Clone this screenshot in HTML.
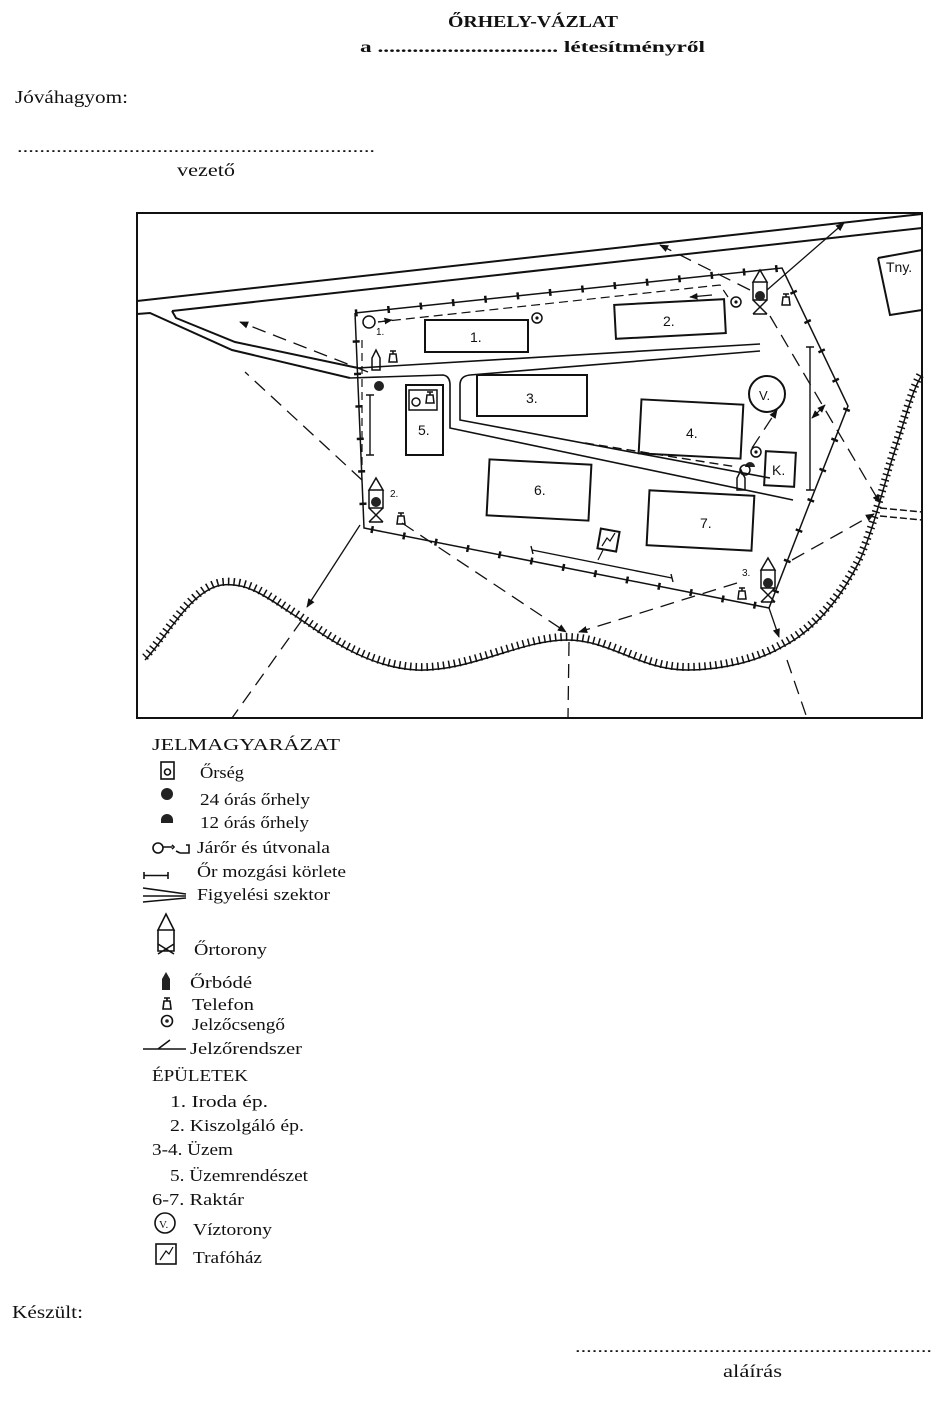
<!DOCTYPE html>
<html><head><meta charset="utf-8"><style>
html,body{margin:0;padding:0;background:#fff}
body{width:939px;height:1403px;position:relative;overflow:hidden}
</style></head><body>
<svg width="939" height="1403" style="position:absolute;left:0;top:0" xmlns="http://www.w3.org/2000/svg">
<defs>
<marker id="ar" viewBox="0 0 10 10" refX="9" refY="5" markerWidth="7" markerHeight="7" orient="auto-start-reverse"><path d="M0,1 L10,5 L0,9 Z" fill="#111"/></marker>
</defs>
<g font-family="Liberation Serif,serif" fill="#111" lengthAdjust="spacingAndGlyphs">
<text x="448" y="27" font-size="17" font-weight="bold" textLength="170" lengthAdjust="spacingAndGlyphs">ŐRHELY-VÁZLAT</text>
<text x="360" y="52" font-size="16" font-weight="bold" textLength="345" lengthAdjust="spacingAndGlyphs">a ............................... létesítményről</text>
<text x="15" y="103" font-size="18" textLength="113" lengthAdjust="spacingAndGlyphs">Jóváhagyom:</text>
<text x="17" y="152" font-size="16" textLength="358" lengthAdjust="spacingAndGlyphs">................................................................</text>
<text x="177" y="176" font-size="18" textLength="58" lengthAdjust="spacingAndGlyphs">vezető</text>
<text x="12" y="1318" font-size="18" textLength="71" lengthAdjust="spacingAndGlyphs">Készült:</text>
<text x="575" y="1352" font-size="16" textLength="357" lengthAdjust="spacingAndGlyphs">................................................................</text>
<text x="723" y="1377" font-size="18" textLength="59" lengthAdjust="spacingAndGlyphs">aláírás</text>
</g>

<g fill="none" stroke="#111" stroke-width="2">
<!-- frame -->
<rect x="137" y="213" width="785" height="505"/>
<!-- top road -->
<line x1="137" y1="301" x2="922" y2="214"/>
<line x1="172" y1="311" x2="922" y2="228"/>
<path d="M137,314 L150,313 L232,350 L350,378"/>
<path d="M172,311 L176,318 L235,342 L358,368"/>
<!-- inner roads -->
<path d="M350,378 L443,375 Q450,376 450,385 L450,428 L793,500" stroke-width="1.6"/>
<path d="M358,368 L760,344" stroke-width="1.6"/>
<path d="M760,351 L470,375 Q460,376 460,385 L460,420 L770,478" stroke-width="1.6"/>
<!-- right road stub -->
<path d="M880,508 L922,512 M880,516 L922,520" stroke-width="1.5" stroke-dasharray="7 3"/>
<!-- buildings -->
<rect x="425" y="320" width="103" height="32"/>
<rect x="615" y="302" width="110" height="34" transform="rotate(-3 670 319)"/>
<rect x="477" y="375" width="110" height="41"/>
<rect x="640" y="402" width="102" height="54" transform="rotate(3 691 429)"/>
<rect x="406" y="385" width="37" height="70"/>
<rect x="488" y="462" width="102" height="56" transform="rotate(3 539 490)"/>
<rect x="648" y="493" width="105" height="55" transform="rotate(3 700 520)"/>
<rect x="765" y="452" width="30" height="34" transform="rotate(3 780 469)"/>
<path d="M878,258 L922,250 M878,258 L890,315 L922,310"/>
<circle cx="767" cy="394" r="18"/>
<rect x="599" y="530" width="19" height="20" transform="rotate(10 608 540)"/>
<path d="M602,546 L607,538 L610,541 L615,533" stroke-width="1.2"/>
<line x1="603" y1="550" x2="598" y2="560" stroke-width="1.2"/>
<!-- fence -->
<polyline points="355,313 782,268 848,406 807,510 769,608 364,528 355,313" stroke-width="1.5"/>
<polyline points="355,313 782,268 848,406 807,510 769,608 364,528 355,313" stroke-width="7" stroke-dasharray="2.5 30"/>
<!-- patrol routes -->
<polyline points="378,322 720,285 728,297" stroke-width="1.2" stroke-dasharray="9 5"/>
<line x1="378" y1="322" x2="392" y2="320" stroke-width="1.2" marker-end="url(#ar)"/>
<line x1="712" y1="295" x2="690" y2="297" stroke-width="1.2" marker-end="url(#ar)"/>
<line x1="362" y1="340" x2="362" y2="470" stroke-width="1.2" stroke-dasharray="8 5"/>
<line x1="585" y1="443" x2="737" y2="467" stroke-width="1.4" stroke-dasharray="9 5"/>
<!-- movement ranges -->
<path d="M370,395 V455 M366,395 H374 M366,455 H374" stroke-width="1.4"/>
<path d="M810,347 V490 M806,347 H814 M806,490 H814" stroke-width="1.4"/>
<path d="M532,550 L672,578 M531,546 L533,554 M671,574 L673,582" stroke-width="1.4"/>
<line x1="812" y1="418" x2="825" y2="405" stroke-width="1.2" marker-end="url(#ar)" marker-start="url(#ar)"/>
<!-- sectors dashed -->
<g stroke-width="1.3" stroke-dasharray="14 8">
<line x1="368" y1="372" x2="240" y2="322" marker-end="url(#ar)"/>
<line x1="362" y1="480" x2="245" y2="372"/>
<line x1="302" y1="620" x2="232" y2="718"/>
<line x1="402" y1="523" x2="566" y2="632" marker-end="url(#ar)"/>
<line x1="737" y1="583" x2="579" y2="632" marker-end="url(#ar)"/>
<line x1="569" y1="642" x2="568" y2="718"/>
<line x1="787" y1="660" x2="807" y2="718"/>
<line x1="792" y1="560" x2="874" y2="514" marker-end="url(#ar)"/>
<line x1="770" y1="316" x2="880" y2="503" marker-end="url(#ar)"/>
<line x1="750" y1="290" x2="660" y2="245" marker-end="url(#ar)"/>
<line x1="752" y1="448" x2="777" y2="410" marker-end="url(#ar)"/>
</g>
<!-- sectors solid -->
<g stroke-width="1.3">
<line x1="360" y1="525" x2="307" y2="607" marker-end="url(#ar)"/>
<line x1="769" y1="608" x2="779" y2="637" marker-end="url(#ar)"/>
<line x1="767" y1="290" x2="844" y2="223" marker-end="url(#ar)"/>
</g>
<!-- hedge -->
<path id="hedge" d="M145,660 C165,640 190,590 222,585 C250,582 270,600 297,617 C330,640 370,668 417,670 C470,672 520,640 567,640 C610,640 640,670 687,670 C725,670 760,660 782,647 C815,630 840,600 860,560 C875,525 885,480 895,450 C905,420 912,390 922,375" stroke-width="1.5"/>
<path d="M145,660 C165,640 190,590 222,585 C250,582 270,600 297,617 C330,640 370,668 417,670 C470,672 520,640 567,640 C610,640 640,670 687,670 C725,670 760,660 782,647 C815,630 840,600 860,560 C875,525 885,480 895,450 C905,420 912,390 922,375" stroke-width="8" stroke-dasharray="1.5 4" transform="translate(0,-3)"/>
</g>
<!-- towers in map -->
<g fill="none" stroke="#111" stroke-width="1.5">
<g transform="translate(376,478)"><path d="M-7,12 L0,0 L7,12 Z M-7,12 V30 H7 V12 M-7,30 L7,44 M7,30 L-7,44 M-7,44 H7"/></g>
<g transform="translate(760,270)"><path d="M-7,12 L0,0 L7,12 Z M-7,12 V30 H7 V12 M-7,30 L7,44 M7,30 L-7,44 M-7,44 H7"/></g>
<g transform="translate(768,558)"><path d="M-7,12 L0,0 L7,12 Z M-7,12 V30 H7 V12 M-7,30 L7,44 M7,30 L-7,44 M-7,44 H7"/></g>
<!-- phones -->
<g transform="translate(401,512)"><path d="M-4,12 H4 L3,4 H-3 Z M-3,1 H3 M0,1 V4"/></g>
<g transform="translate(786,293)"><path d="M-4,12 H4 L3,4 H-3 Z M-3,1 H3 M0,1 V4"/></g>
<g transform="translate(742,587)"><path d="M-4,12 H4 L3,4 H-3 Z M-3,1 H3 M0,1 V4"/></g>
<g transform="translate(393,350)"><path d="M-4,12 H4 L3,4 H-3 Z M-3,1 H3 M0,1 V4"/></g>
<g transform="translate(430,391)"><path d="M-4,12 H4 L3,4 H-3 Z M-3,1 H3 M0,1 V4"/></g>
<!-- booths -->
<path d="M372,370 V358 L376,350 L380,358 V370 Z"/>
<path d="M737,490 V478 L741,470 L745,478 V490 Z"/>
<rect x="409" y="390" width="28" height="20"/>
<circle cx="416" cy="402" r="4"/>
</g>
<g fill="#222">
<circle cx="379" cy="386" r="5"/>
<circle cx="376" cy="502" r="5"/><circle cx="760" cy="296" r="5"/><circle cx="768" cy="583" r="5"/>
<path d="M745,467 a5,5 0 0 1 10,0 Z"/>
</g>
<g fill="none" stroke="#111" stroke-width="1.5">
<circle cx="537" cy="318" r="5"/><circle cx="736" cy="302" r="5"/><circle cx="756" cy="452" r="5"/><circle cx="369" cy="322" r="6"/>
<circle cx="745" cy="470" r="5"/>
</g>
<g fill="#111"><circle cx="537" cy="318" r="1.6"/><circle cx="736" cy="302" r="1.6"/><circle cx="756" cy="452" r="1.6"/></g>
<g font-family="Liberation Sans,sans-serif" font-size="14" fill="#111">
<text x="470" y="342">1.</text><text x="663" y="326">2.</text><text x="526" y="403">3.</text>
<text x="686" y="438">4.</text><text x="418" y="435">5.</text><text x="534" y="495">6.</text>
<text x="700" y="528">7.</text><text x="772" y="475">K.</text><text x="886" y="272">Tny.</text>
<text x="759" y="400" font-size="13">V.</text>
<text x="390" y="497" font-size="10">2.</text><text x="376" y="335" font-size="10">1.</text><text x="742" y="576" font-size="10">3.</text>
</g>

<!-- legend icons -->
<g fill="none" stroke="#111" stroke-width="1.6">
<rect x="161" y="762" width="13" height="17"/>
<circle cx="167.5" cy="772" r="3"/>
<path d="M153,848 a5,5 0 1 0 10,0 a5,5 0 1 0 -10,0 M163,847 H172 M172,845 L174,847 L172,849 M186,845 H189 V853 H180 M180,853 L176,851"/>
<path d="M144,872 V879 M144,875.5 H168 M168,872 V879"/>
<path d="M143,888 L186,894 M143,896 L186,896 M143,902 L186,898"/>
<path d="M158,930 L166,914 L174,930 Z M158,930 V951 H174 V930 M158,944 L174,954 M174,944 L158,954"/>
<path d="M163,1009 H171 L170,1001 H164 Z M164,998 H170 M167,998 V1001"/>
<circle cx="167" cy="1021" r="5.5"/>
<path d="M143,1049 L186,1049 M158,1049 L170,1040"/>
<circle cx="165" cy="1223" r="10"/>
<rect x="156" y="1244" width="20" height="20"/>
<path d="M160,1260 L166,1251 L169,1254 L173,1247" stroke-width="1.2"/>
</g>
<g fill="#222"><circle cx="167" cy="794" r="6"/><path d="M161,820 a6,6 0 0 1 12,0 V823 H161 Z"/><path d="M162,990 V979 L166,972 L170,979 V990 Z"/><circle cx="167" cy="1021" r="1.8"/></g>
<g font-size="17" fill="#111" font-family="Liberation Serif,serif">
<text x="152" y="750" textLength="188" lengthAdjust="spacingAndGlyphs">JELMAGYARÁZAT</text>
<text x="200" y="778" textLength="44" lengthAdjust="spacingAndGlyphs">Őrség</text>
<text x="200" y="805" textLength="110" lengthAdjust="spacingAndGlyphs">24 órás őrhely</text>
<text x="200" y="828" textLength="109" lengthAdjust="spacingAndGlyphs">12 órás őrhely</text>
<text x="197" y="853" textLength="133" lengthAdjust="spacingAndGlyphs">Járőr és útvonala</text>
<text x="197" y="877" textLength="149" lengthAdjust="spacingAndGlyphs">Őr mozgási körlete</text>
<text x="197" y="900" textLength="133" lengthAdjust="spacingAndGlyphs">Figyelési szektor</text>
<text x="194" y="955" textLength="73" lengthAdjust="spacingAndGlyphs">Őrtorony</text>
<text x="190" y="988" textLength="62" lengthAdjust="spacingAndGlyphs">Őrbódé</text>
<text x="192" y="1010" textLength="62" lengthAdjust="spacingAndGlyphs">Telefon</text>
<text x="192" y="1030" textLength="93" lengthAdjust="spacingAndGlyphs">Jelzőcsengő</text>
<text x="190" y="1054" textLength="112" lengthAdjust="spacingAndGlyphs">Jelzőrendszer</text>
<text x="152" y="1081" textLength="96" lengthAdjust="spacingAndGlyphs">ÉPÜLETEK</text>
<text x="170" y="1107" textLength="98" lengthAdjust="spacingAndGlyphs">1. Iroda ép.</text>
<text x="170" y="1131" textLength="134" lengthAdjust="spacingAndGlyphs">2. Kiszolgáló ép.</text>
<text x="152" y="1155" textLength="81" lengthAdjust="spacingAndGlyphs">3-4. Üzem</text>
<text x="170" y="1181" textLength="138" lengthAdjust="spacingAndGlyphs">5. Üzemrendészet</text>
<text x="152" y="1205" textLength="92" lengthAdjust="spacingAndGlyphs">6-7. Raktár</text>
<text x="193" y="1235" textLength="79" lengthAdjust="spacingAndGlyphs">Víztorony</text>
<text x="193" y="1263" textLength="69" lengthAdjust="spacingAndGlyphs">Trafóház</text>
<text x="159" y="1228" font-size="11">V.</text>
</g>
</svg>
</body></html>
